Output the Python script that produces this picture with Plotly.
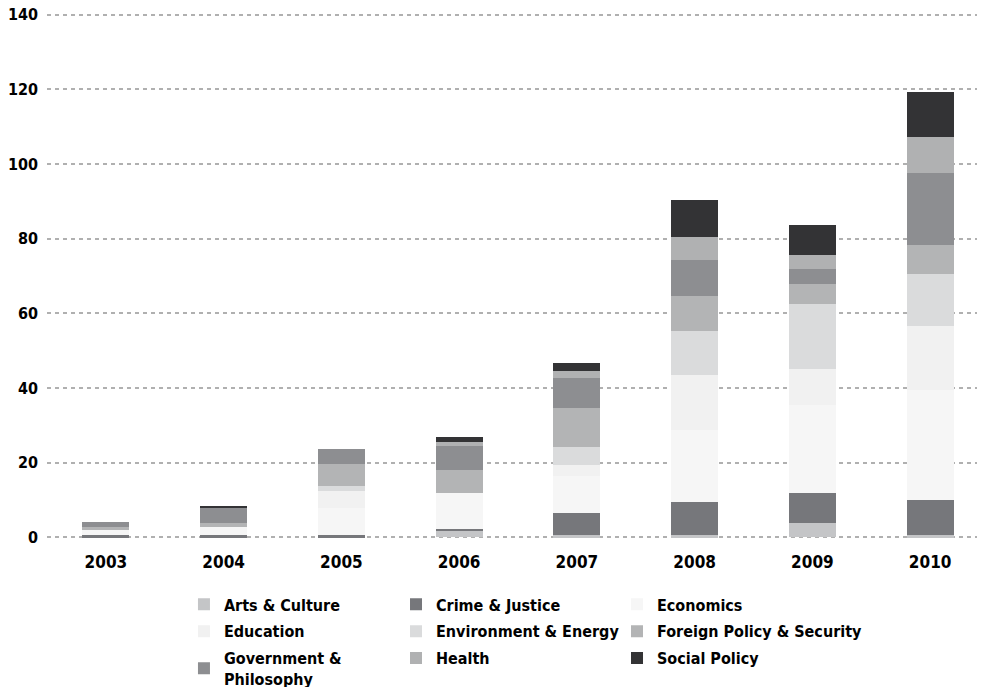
import plotly.graph_objects as go

years = ["2003", "2004", "2005", "2006", "2007", "2008", "2009", "2010"]

arts = [0, 0, 0, 1.8, 0.45, 0.45, 3.7, 0.45]
crime = [0.45, 0.45, 0.45, 0.5, 5.9, 9.1, 8.0, 9.4]
economics = [1.35, 2.15, 7.25, 9.4, 10.0, 19.3, 23.6, 29.5]
education = [0, 0, 4.55, 0, 3.1, 14.5, 9.9, 17.2]
environment = [0, 0, 1.35, 0, 4.6, 11.8, 17.2, 13.9]
foreign = [0.9, 1.15, 6.1, 6.4, 10.7, 9.4, 5.4, 7.8]
government = [1.35, 4.0, 3.85, 6.2, 7.8, 9.7, 4.0, 19.3]
health = [0, 0, 0, 1.3, 2.1, 6.2, 3.75, 9.65]
social = [0, 0.7, 0, 1.3, 2.1, 9.9, 8.0, 12.1]
y_ticks = [0, 20, 40, 60, 80, 100, 120, 140]

series_names = ["Arts & Culture", "Crime & Justice", "Economics", "Education",
                "Environment & Energy", "Foreign Policy & Security",
                "Government &<br>Philosophy", "Health", "Social Policy"]
series_values = [arts, crime, economics, education, environment, foreign,
                 government, health, social]
colors = ["#c4c5c7", "#76777b", "#f6f6f6", "#f1f1f1", "#dadbdc", "#b3b4b5",
          "#8d8e91", "#b0b1b2", "#333335"]
# legend column for each series (3 columns, filled row by row)
legend_cols = ["legend", "legend2", "legend3"] * 3

FONT = "DejaVu Sans Condensed, DejaVu Sans"

fig = go.Figure()
for i, (name, vals, col) in enumerate(zip(series_names, series_values, colors)):
    fig.add_trace(go.Bar(x=years, y=vals, name=name, marker_color=col,
                         marker_line_width=0, legend=legend_cols[i],
                         legendgroup=f"g{i}"))

leg_font = dict(family=FONT, size=16, color="black", weight="bold")
common = dict(orientation="v", yanchor="top", xanchor="left", y=-0.0921,
              traceorder="grouped", tracegroupgap=3, font=leg_font,
              bgcolor="rgba(0,0,0,0)")

fig.update_layout(
    barmode="stack",
    bargap=0.6,
    width=981, height=679,
    margin=dict(l=39, r=0, t=4.84, b=148.4, autoexpand=False),
    plot_bgcolor="white", paper_bgcolor="white",
    font=dict(family=FONT, size=17, color="black", weight="bold"),
    xaxis=dict(showgrid=False, showline=False, ticks="",
               ticklabelstandoff=11,
               tickfont=dict(family=FONT, size=17, color="black", weight="bold")),
    yaxis=dict(range=[-0.5, 140.5], tickvals=y_ticks,
               showgrid=True, gridcolor="#b0b0b0",
               gridwidth=2, griddash="4px,4px", zeroline=False, showline=False,
               ticklabelstandoff=8, ticklabeloverflow="allow",
               tickfont=dict(family=FONT, size=16, color="black", weight="bold")),
    legend=dict(x=0.1454, **common),
    legend2=dict(x=0.3705, **common),
    legend3=dict(x=0.6051, **common),
)

fig.write_html("out.html")
